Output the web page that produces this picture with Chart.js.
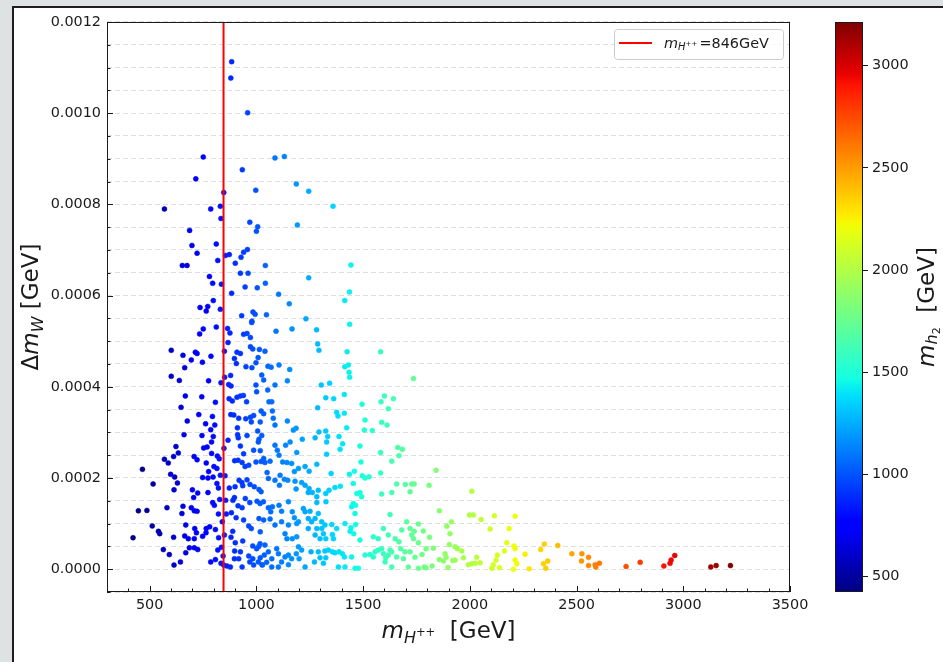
<!DOCTYPE html>
<html>
<head>
<meta charset="utf-8">
<title>Delta m_W scan</title>
<script src="https://cdn.jsdelivr.net/npm/chart.js@4.4.1/dist/chart.umd.min.js"></script>
<style>
    html, body { margin: 0; padding: 0; background: #dee2e2; overflow: hidden; }
    #frame {
        position: absolute; left: 12px; top: 6px; right: 0; bottom: 0;
        background: #fff; border-left: 2px solid #1e1e1e; border-top: 2px solid #1e1e1e;
    }
    canvas { position: absolute; left: 0; top: 0; }
</style>
</head>
<body>
<div id="frame"></div>
<canvas id="scatterChart" width="943" height="662"></canvas>
<canvas id="colorbarChart" width="943" height="662"></canvas>
<script>
/* globals Chart:false */
const X_RANGE = [300, 3500];
const Y_RANGE = [-0.00005, 0.0012];
const X_TICKS = [500, 1000, 1500, 2000, 2500, 3000, 3500];
const Y_TICKS = [0, 0.0002, 0.0004, 0.0006, 0.0008, 0.0010, 0.0012];
const CBAR_TICKS = [500, 1000, 1500, 2000, 2500, 3000];
const BENCHMARK_MASS = 846;

// each point: [m_H++ (GeV), Delta m_W (1e-4 GeV), m_h2 (GeV)]
const scanUpper = [
    [884, 11.13, 884], [880, 10.77, 880], [959, 10.01, 959], [751, 9.04, 751], [716, 8.56, 716], [934, 8.76, 934],
    [1087, 9.02, 1087], [1131, 9.05, 1131], [1187, 8.45, 1187], [1245, 8.29, 1245], [997, 8.31, 997], [847, 8.26, 847],
    [831, 7.96, 831], [786, 7.90, 786], [569, 7.90, 569], [834, 7.69, 834], [1359, 7.96, 1359],
    [969, 7.61, 969], [1006, 7.51, 1006], [1000, 7.41, 1000], [1192, 7.55, 1192], [687, 7.43, 687], [698, 7.10, 698],
    [812, 7.13, 812], [722, 6.93, 722], [855, 6.88, 855], [873, 6.90, 873], [940, 6.95, 940], [958, 7.01, 958],
    [928, 6.84, 928], [819, 6.77, 819], [901, 6.71, 901], [653, 6.66, 653], [675, 6.66, 675], [1042, 6.66, 1042],
    [780, 6.42, 780], [925, 6.49, 925], [961, 6.49, 961], [1245, 6.39, 1245], [795, 6.27, 795], [836, 6.25, 836],
    [947, 6.19, 947], [1004, 6.17, 1004], [1042, 6.27, 1042], [884, 6.05, 884], [1104, 6.03, 1104], [798, 5.89, 798],
    [1154, 5.82, 1154], [1414, 5.89, 1414], [736, 5.74, 736], [772, 5.76, 772], [765, 5.66, 765], [831, 5.70, 831],
    [931, 5.56, 931], [984, 5.64, 984], [994, 5.59, 994], [1047, 5.58, 1047], [979, 5.44, 979], [978, 5.41, 978],
    [1232, 5.49, 1232], [751, 5.27, 751], [812, 5.31, 812], [865, 5.28, 865], [876, 5.18, 876], [734, 5.16, 734],
    [940, 5.15, 940], [956, 5.17, 956], [972, 5.08, 972], [1092, 5.22, 1092], [1167, 5.27, 1167], [1282, 5.25, 1282],
    [867, 4.97, 867], [1287, 4.94, 1287], [1293, 4.80, 1293], [601, 4.80, 601], [656, 4.69, 656], [714, 4.76, 714],
    [722, 4.73, 722], [695, 4.59, 695], [747, 4.54, 747], [787, 4.67, 787], [850, 4.78, 850], [909, 4.76, 909],
    [925, 4.73, 925], [972, 4.88, 972], [983, 4.83, 983], [1014, 4.82, 1014], [1040, 4.78, 1040], [897, 4.62, 897],
    [906, 4.51, 906], [1008, 4.64, 1008], [998, 4.53, 998], [951, 4.44, 951], [979, 4.42, 979], [1054, 4.45, 1054],
    [1069, 4.43, 1069], [1106, 4.48, 1106], [1156, 4.38, 1156], [664, 4.42, 664], [1425, 4.77, 1425], [1414, 4.44, 1414],
    [1443, 6.67, 1443], [1436, 6.08, 1436], [1437, 5.37, 1437], [1582, 4.77, 1582], [1431, 4.48, 1431]
];

const scanLeft = [
    [601, 4.23, 601], [639, 4.14, 639], [776, 4.13, 776], [834, 4.09, 834], [851, 4.21, 851], [879, 4.25, 879],
    [870, 4.05, 870], [881, 4.02, 881], [667, 3.80, 667], [744, 3.78, 744], [808, 3.66, 808], [647, 3.55, 647],
    [872, 3.74, 872], [887, 3.69, 887], [909, 3.77, 909], [925, 3.80, 925], [939, 3.81, 939], [954, 3.67, 954],
    [730, 3.39, 730], [794, 3.35, 794], [676, 3.25, 676], [762, 3.19, 762], [805, 3.16, 805], [880, 3.39, 880],
    [894, 3.38, 894], [917, 3.31, 917], [950, 3.30, 950], [972, 3.33, 972], [987, 3.37, 987], [976, 3.23, 976],
    [1034, 3.41, 1034], [1018, 3.23, 1018], [661, 2.95, 661], [745, 2.93, 745], [798, 2.91, 798], [786, 3.06, 786],
    [867, 2.83, 867], [911, 3.10, 911], [912, 2.95, 912], [915, 2.88, 915], [956, 2.93, 956], [1012, 2.85, 1012],
    [1025, 2.93, 1025], [790, 2.79, 790], [769, 2.68, 769], [753, 2.66, 753], [623, 2.69, 623], [634, 2.55, 634],
    [612, 2.47, 612], [708, 2.47, 708], [722, 2.40, 722], [790, 2.54, 790], [848, 2.65, 848], [817, 2.48, 817],
    [826, 2.42, 826], [925, 2.70, 925], [940, 2.53, 940], [987, 2.61, 987], [1018, 2.60, 1018], [1034, 2.43, 1034],
    [898, 2.38, 898], [914, 2.39, 914], [933, 2.34, 933], [947, 2.25, 947], [964, 2.28, 964], [998, 2.35, 998],
    [1022, 2.36, 1022], [569, 2.41, 569], [587, 2.33, 587], [466, 2.19, 466], [598, 2.08, 598], [617, 2.02, 617],
    [630, 1.89, 630], [516, 1.87, 516], [614, 1.74, 614], [765, 2.33, 765], [776, 2.14, 776], [801, 2.25, 801],
    [815, 2.21, 815], [748, 2.01, 748], [773, 2.00, 773], [797, 2.02, 797], [815, 1.88, 815], [822, 1.78, 822],
    [831, 2.06, 831], [853, 2.05, 853], [873, 1.78, 873], [900, 1.81, 900], [919, 1.95, 919], [932, 1.90, 932],
    [936, 1.83, 936], [956, 1.96, 956], [970, 1.86, 970], [990, 1.81, 990], [1012, 1.75, 1012], [1022, 1.70, 1022],
    [700, 1.74, 700], [706, 1.57, 706], [725, 1.67, 725], [773, 1.68, 773], [795, 1.46, 795], [803, 1.40, 803],
    [828, 1.53, 828], [856, 1.51, 856], [890, 1.51, 890], [897, 1.57, 897], [914, 1.39, 914], [948, 1.55, 948],
    [969, 1.46, 969], [1003, 1.49, 1003], [447, 1.28, 447], [487, 1.29, 487], [581, 1.35, 581], [656, 1.38, 656],
    [651, 1.22, 651], [695, 1.35, 695], [709, 1.28, 709], [722, 1.27, 722], [822, 1.21, 822], [840, 1.04, 840],
    [859, 1.21, 859], [883, 1.24, 883], [905, 1.13, 905], [933, 1.35, 933], [512, 0.95, 512], [541, 0.83, 541],
    [547, 0.78, 547], [669, 0.97, 669], [711, 0.89, 711], [719, 0.80, 719], [765, 0.89, 765], [781, 0.93, 781],
    [808, 0.87, 808], [823, 0.69, 823], [850, 0.75, 850], [889, 0.83, 889], [940, 1.08, 940], [964, 0.95, 964],
    [976, 0.89, 976], [1018, 0.82, 1018], [1034, 1.08, 1034], [422, 0.69, 425], [612, 0.70, 612], [664, 0.73, 664],
    [681, 0.67, 681], [709, 0.67, 709], [748, 0.72, 748], [764, 0.80, 764], [936, 0.62, 936], [901, 0.58, 901],
    [881, 0.70, 881], [983, 0.51, 983], [1011, 0.50, 1011], [686, 0.47, 686], [709, 0.47, 709], [725, 0.43, 725],
    [669, 0.36, 669], [564, 0.43, 564], [592, 0.32, 592], [614, 0.09, 614], [644, 0.16, 644], [786, 0.16, 786],
    [808, 0.21, 808], [819, 0.42, 819], [836, 0.48, 836], [844, 0.29, 844], [834, 0.13, 834], [847, 0.09, 847],
    [862, 0.07, 862], [878, 0.05, 878], [898, 0.40, 898], [925, 0.38, 925], [897, 0.23, 897], [917, 0.23, 917],
    [933, 0.05, 933], [964, 0.29, 964], [983, 0.23, 983], [969, 0.16, 969], [987, 0.09, 987], [1018, 0.25, 1018],
    [1026, 0.10, 1026], [1037, 0.31, 1037]
];

const scanCentre = [
    [1434, 4.32, 1434], [1437, 4.21, 1437], [1025, 4.26, 1025], [1034, 4.15, 1034], [1053, 3.93, 1053], [1087, 4.04, 1087],
    [1145, 4.13, 1145], [1304, 4.04, 1304], [1343, 4.08, 1343], [1325, 3.76, 1325], [1362, 3.74, 1362], [1412, 3.83, 1412],
    [998, 4.04, 998], [1001, 3.89, 1001], [1059, 3.67, 1059], [1072, 3.67, 1072], [1287, 3.54, 1287], [1495, 3.62, 1495],
    [1584, 3.67, 1584], [1600, 3.80, 1600], [1642, 3.74, 1642], [1618, 3.52, 1618], [1022, 3.47, 1022], [1075, 3.47, 1075],
    [1079, 3.31, 1079], [1376, 3.44, 1376], [1412, 3.42, 1412], [1382, 3.36, 1382], [1509, 3.27, 1509], [1587, 3.22, 1587],
    [1612, 3.16, 1612], [1506, 3.05, 1506], [1543, 3.04, 1543], [1087, 3.16, 1087], [1145, 3.25, 1145], [1173, 3.05, 1173],
    [1186, 3.09, 1186], [1423, 3.10, 1423], [1006, 3.03, 1006], [1009, 2.79, 1009], [1275, 2.88, 1275], [1293, 3.01, 1293],
    [1325, 3.03, 1325], [1329, 2.79, 1329], [1334, 2.91, 1334], [1387, 2.91, 1387], [1404, 2.75, 1404], [1392, 2.63, 1392],
    [1215, 2.85, 1215], [1485, 2.70, 1485], [1490, 2.35, 1490], [1582, 2.56, 1582], [1634, 2.37, 1634], [1662, 2.67, 1662],
    [1684, 2.63, 1684], [1668, 2.49, 1668], [1087, 2.72, 1087], [1098, 2.61, 1098], [1106, 2.50, 1106], [1137, 2.72, 1137],
    [1158, 2.79, 1158], [1189, 2.56, 1189], [1329, 2.52, 1329], [1040, 2.34, 1040], [1064, 2.37, 1064], [1123, 2.35, 1123],
    [1143, 2.34, 1143], [1165, 2.32, 1165], [1178, 2.14, 1178], [1197, 2.21, 1197], [1228, 2.25, 1228], [1247, 2.15, 1247],
    [1283, 2.30, 1283], [1350, 2.10, 1350], [1436, 2.08, 1436], [1459, 2.15, 1459], [1454, 1.88, 1454], [1496, 2.05, 1496],
    [1509, 2.00, 1509], [1528, 2.03, 1528], [1582, 2.11, 1582], [1657, 1.87, 1657], [1698, 1.86, 1698], [1050, 2.12, 1050],
    [1056, 1.99, 1056], [1087, 1.95, 1087], [1111, 2.06, 1111], [1108, 1.84, 1108], [1131, 1.97, 1131], [1147, 1.95, 1147],
    [1181, 1.93, 1181], [1186, 1.76, 1186], [1212, 1.90, 1212], [1228, 1.84, 1228], [1247, 1.77, 1247], [1243, 1.68, 1243],
    [1262, 1.68, 1262], [1283, 1.59, 1283], [1290, 1.73, 1290], [1325, 1.66, 1325], [1340, 1.73, 1340], [1368, 1.79, 1368],
    [1393, 1.82, 1393], [1454, 1.44, 1454], [1446, 1.37, 1446], [1471, 1.66, 1471], [1493, 1.59, 1493], [1465, 1.40, 1465],
    [1462, 1.22, 1462], [1587, 1.65, 1587], [1634, 1.68, 1634], [1626, 1.20, 1626], [1485, 1.68, 1485], [1017, 1.44, 1017],
    [1033, 1.48, 1033], [1056, 1.35, 1056], [1067, 1.26, 1067], [1075, 1.37, 1075], [1106, 1.40, 1106], [1118, 1.27, 1118],
    [1150, 1.48, 1150], [1168, 1.26, 1168], [1197, 1.04, 1197], [1178, 1.13, 1178], [1220, 1.33, 1220], [1228, 1.26, 1228],
    [1251, 1.27, 1251], [1243, 1.11, 1243], [1259, 1.04, 1259], [1275, 1.11, 1275], [1290, 1.22, 1290], [1306, 1.04, 1306],
    [1321, 0.97, 1321], [1353, 0.98, 1353], [1326, 1.48, 1326], [1283, 1.46, 1283], [1243, 0.89, 1243], [1283, 0.89, 1283],
    [1306, 0.89, 1306], [1325, 0.67, 1325], [1356, 0.76, 1356], [1361, 0.67, 1361], [1376, 0.89, 1376], [1012, 1.11, 1012],
    [1064, 1.10, 1064], [1087, 0.97, 1087], [1118, 1.04, 1118], [1150, 0.97, 1150], [1189, 1.00, 1189], [1134, 0.78, 1134],
    [1143, 0.67, 1143], [1168, 0.67, 1168], [1189, 0.71, 1189], [1197, 0.49, 1197], [1187, 0.34, 1187], [1212, 0.42, 1212],
    [1200, 0.23, 1200], [1017, 0.56, 1017], [1040, 0.53, 1040], [1056, 0.38, 1056], [1072, 0.23, 1072], [1095, 0.45, 1095],
    [1103, 0.34, 1103], [1118, 0.16, 1118], [1134, 0.27, 1134], [1150, 0.10, 1150], [1165, 0.23, 1165], [1150, 0.31, 1150],
    [1001, 0.45, 1001], [1009, 0.16, 1009], [1028, 0.09, 1028], [1048, 0.15, 1048], [1072, 0.05, 1072], [1103, 0.05, 1103],
    [1228, 0.05, 1228], [1256, 0.38, 1256], [1272, 0.16, 1272], [1290, 0.38, 1290], [1298, 0.25, 1298], [1314, 0.13, 1314],
    [1325, 0.25, 1325], [1321, 0.40, 1321], [1337, 0.42, 1337], [1356, 0.38, 1356], [1368, 0.36, 1368], [1387, 0.38, 1387],
    [1403, 0.34, 1403], [1412, 0.27, 1412], [1384, 0.05, 1384], [1415, 0.05, 1415], [1446, 0.27, 1446], [1275, 0.75, 1275],
    [1298, 0.67, 1298], [1314, 0.78, 1314], [1415, 1.00, 1415], [1443, 0.91, 1443], [1439, 0.83, 1439], [1456, 0.78, 1456],
    [1465, 0.98, 1465], [1485, 0.64, 1485], [1462, 0.02, 1462], [1478, 0.02, 1478], [1509, 0.31, 1509], [1532, 0.32, 1532],
    [1548, 0.27, 1548], [1556, 0.38, 1556], [1571, 0.42, 1571], [1587, 0.45, 1587], [1595, 0.34, 1595], [1606, 0.25, 1606],
    [1618, 0.31, 1618], [1626, 0.42, 1626], [1634, 0.38, 1634], [1603, 0.16, 1603], [1634, 0.05, 1634], [1657, 0.27, 1657],
    [1676, 0.45, 1676], [1689, 0.23, 1689], [1696, 0.38, 1696], [1712, 0.05, 1712], [1548, 0.71, 1548], [1571, 0.67, 1571],
    [1595, 0.89, 1595], [1618, 0.75, 1618], [1650, 0.67, 1650], [1668, 0.60, 1668], [1681, 0.86, 1681], [1704, 1.04, 1704],
    [1720, 0.89, 1720], [1728, 0.75, 1728]
];

const scanRight = [
    [1736, 4.18, 1736], [1842, 2.17, 1842], [1728, 1.87, 1728], [1739, 1.87, 1739], [1809, 1.84, 1809], [1720, 1.70, 1720],
    [2009, 1.71, 2009], [1857, 1.28, 1857], [1998, 1.19, 1998], [2017, 1.19, 2017], [2053, 1.09, 2053], [2115, 1.17, 2115],
    [2212, 1.16, 2212], [1759, 0.99, 1759], [1739, 0.83, 1739], [1782, 0.84, 1782], [1811, 0.70, 1811], [1759, 0.58, 1759],
    [1736, 0.67, 1736], [1892, 0.94, 1892], [1914, 1.04, 1914], [1907, 0.78, 1907], [1904, 0.54, 1904], [2095, 0.88, 2095],
    [2184, 0.89, 2184], [2173, 0.58, 2173], [2207, 0.51, 2207], [2162, 0.40, 2162], [2212, 0.45, 2212], [1795, 0.45, 1795],
    [1829, 0.46, 1829], [1776, 0.32, 1776], [1743, 0.26, 1743], [1720, 0.38, 1720], [1884, 0.34, 1884], [1889, 0.26, 1889],
    [1931, 0.49, 1931], [1942, 0.45, 1942], [1962, 0.40, 1962], [1970, 0.25, 1970], [1920, 0.19, 1920], [1931, 0.20, 1931],
    [1876, 0.18, 1876], [1857, 0.21, 1857], [1898, 0.04, 1898], [1993, 0.10, 1993], [2009, 0.12, 2009], [2025, 0.13, 2025],
    [2048, 0.14, 2048], [2032, 0.26, 2032], [2103, 0.02, 2103], [2110, 0.10, 2110], [2123, 0.20, 2123], [2129, 0.31, 2129],
    [2139, 0.03, 2139], [2204, 0.00, 2204], [2212, 0.20, 2212], [2220, 0.12, 2220], [2259, 0.33, 2259], [2278, 0.01, 2278],
    [2332, 0.43, 2332], [2349, 0.55, 2349], [2365, 0.18, 2365], [2345, 0.12, 2345], [2356, 0.02, 2356], [2412, 0.52, 2412],
    [1759, 0.02, 1759], [1786, 0.05, 1786], [1795, 0.03, 1795], [1823, 0.07, 1823]
];

const scanTail = [
    [2478, 0.34, 2478], [2525, 0.34, 2525], [2523, 0.18, 2523], [2556, 0.26, 2556], [2556, 0.08, 2556], [2587, 0.10, 2587],
    [2590, 0.05, 2590], [2607, 0.13, 2607], [2732, 0.06, 2732], [2798, 0.15, 2798], [2909, 0.07, 2909], [2938, 0.13, 2938],
    [2943, 0.20, 2943], [2960, 0.30, 2960], [3129, 0.05, 3129], [3154, 0.08, 3154], [3221, 0.08, 3214]
];

(function () {
    const FONT = "'DejaVu Sans', sans-serif";
    const INK = "#1a1a1a";
    const X_MINOR = 100;
    const Y_MINOR = 0.00005;

    Chart.defaults.font.family = FONT;
    Chart.defaults.color = INK;

    var points = [].concat(scanUpper, scanLeft, scanCentre, scanRight, scanTail);

    var zValues = points.map(p => p[2]),
        zMin = Math.min.apply(null, zValues),
        zMax = Math.max.apply(null, zValues);

    // matplotlib "jet" segment data
    var JET = {
        r: [[0, 0], [0.35, 0], [0.66, 1], [0.89, 1], [1, 0.5]],
        g: [[0, 0], [0.125, 0], [0.375, 1], [0.64, 1], [0.91, 0], [1, 0]],
        b: [[0, 0.5], [0.11, 1], [0.34, 1], [0.65, 0], [1, 0]]
    };

    function channel(segments, t) {
        for (var i = 1; i < segments.length; i++) {
            if (t <= segments[i][0]) {
                var a = segments[i - 1], b = segments[i];
                return a[1] + (b[1] - a[1]) * (t - a[0]) / (b[0] - a[0]);
            }
        }
        return segments[segments.length - 1][1];
    }

    function jet(t) {
        t = Math.max(0, Math.min(1, t));
        return `rgb(${Math.round(255 * channel(JET.r, t))},${Math.round(255 * channel(JET.g, t))},${Math.round(255 * channel(JET.b, t))})`;
    }

    function colourFor(z) {
        return jet((z - zMin) / (zMax - zMin));
    }

    // runs: [text, size px, italic, baseline shift px]
    function drawMath(ctx, runs, x, y, rotate, align) {
        ctx.save();
        ctx.translate(x, y);
        if (rotate) {
            ctx.rotate(-Math.PI / 2);
        }
        ctx.fillStyle = INK;
        ctx.textBaseline = "alphabetic";
        ctx.textAlign = "left";

        var fonts = runs.map(r => `${r[2] ? "italic " : ""}${r[1]}px ${FONT}`);
        var widths = runs.map((r, i) => {
            ctx.font = fonts[i];
            return ctx.measureText(r[0]).width;
        });
        var total = widths.reduce((a, b) => a + b, 0);
        var cursor = align === "left" ? 0 : -total / 2;

        runs.forEach((r, i) => {
            ctx.font = fonts[i];
            ctx.fillText(r[0], cursor, r[3]);
            cursor += widths[i];
        });
        ctx.restore();
    }

    function isMajorY(v) {
        return Y_TICKS.some(t => Math.abs(t - v) < 1e-10);
    }

    var yGrid = [];
    for (var k = Math.round(Y_RANGE[0] / Y_MINOR); k <= Math.round(Y_RANGE[1] / Y_MINOR); k++) {
        yGrid.push(k * Y_MINOR);
    }

    var axesDecor = {
        id: "axesDecor",
        afterDraw: function (chart) {
            var ctx = chart.ctx,
                area = chart.chartArea,
                xs = chart.scales.x,
                ys = chart.scales.y;

            ctx.save();
            ctx.strokeStyle = INK;
            ctx.lineWidth = 1;
            ctx.beginPath();

            for (var v = X_RANGE[0] + X_MINOR; v <= X_RANGE[1]; v += X_MINOR) {
                var px = Math.round(xs.getPixelForValue(v)) + 0.5;
                var len = X_TICKS.indexOf(v) >= 0 ? 6 : 3.5;
                ctx.moveTo(px, area.bottom);
                ctx.lineTo(px, area.bottom - len);
            }

            yGrid.forEach(val => {
                var py = Math.round(ys.getPixelForValue(val)) + 0.5;
                var len = isMajorY(val) ? 6 : 3.5;
                ctx.moveTo(area.left, py);
                ctx.lineTo(area.left + len, py);
            });
            ctx.stroke();

            ctx.strokeRect(Math.round(area.left) + 0.5, Math.round(area.top) + 0.5,
                Math.round(area.right - area.left) - 1, Math.round(area.bottom - area.top) - 1);

            // legend
            var line = chart.data.datasets[0];
            ctx.fillStyle = "rgba(255,255,255,0.8)";
            ctx.strokeStyle = "#cccccc";
            ctx.beginPath();
            ctx.roundRect(614.5, 29.5, 169, 30, 3);
            ctx.fill();
            ctx.stroke();

            ctx.strokeStyle = line.borderColor;
            ctx.lineWidth = 2;
            ctx.beginPath();
            ctx.moveTo(619, 43);
            ctx.lineTo(652, 43);
            ctx.stroke();
            ctx.restore();

            drawMath(ctx, [
                ["m", 14.4, true, 0],
                ["H", 10, true, 2],
                ["++ ", 7, false, -2.5],
                ["=" + BENCHMARK_MASS + "GeV", 14.4, false, 0]
            ], 664, 48, false, "left");

            drawMath(ctx, [
                ["m", 23, true, 0],
                ["H", 16, true, 4.5],
                ["++", 11.5, false, -2.5],
                ["  [GeV]", 23, false, 0]
            ], (area.left + area.right) / 2, 638, false);

            drawMath(ctx, [
                ["\u0394", 23, false, 0],
                ["m", 23, true, 0],
                ["W", 16, true, 4.5],
                [" [GeV]", 23, false, 0]
            ], 38, (area.top + area.bottom) / 2, true);
        }
    };

    var scatterCfg = {
        type: "scatter",
        data: {
            datasets: [{
                label: "benchmark",
                data: [{ x: BENCHMARK_MASS, y: Y_RANGE[0] }, { x: BENCHMARK_MASS, y: Y_RANGE[1] }],
                showLine: true,
                borderColor: "#ff0000",
                borderWidth: 2,
                pointRadius: 0,
                order: 0
            }, {
                label: "scan",
                data: points.map(p => ({ x: p[0], y: p[1] * 1e-4 })),
                backgroundColor: points.map(p => colourFor(p[2])),
                borderColor: points.map(p => colourFor(p[2])),
                borderWidth: 0.5,
                pointRadius: 2.5,
                order: 1
            }]
        },
        options: {
            responsive: false,
            animation: false,
            events: [],
            layout: { padding: { left: 0, top: 22, right: 153, bottom: 0 } },
            plugins: { legend: { display: false }, tooltip: { enabled: false } },
            scales: {
                x: {
                    type: "linear",
                    min: X_RANGE[0],
                    max: X_RANGE[1],
                    afterFit: s => { s.height = 70; },
                    afterBuildTicks: s => { s.ticks = X_TICKS.map(v => ({ value: v })); },
                    grid: { display: false, drawTicks: false, tickLength: 0 },
                    border: { display: false },
                    ticks: {
                        font: { size: 14.4 },
                        color: INK,
                        padding: 5,
                        maxRotation: 0,
                        autoSkip: false,
                        callback: v => String(v)
                    }
                },
                y: {
                    min: Y_RANGE[0],
                    max: Y_RANGE[1],
                    afterFit: s => { s.width = 107; },
                    afterBuildTicks: s => { s.ticks = yGrid.map(v => ({ value: v })); },
                    grid: { color: "rgba(190,190,190,0.5)", lineWidth: 1, drawTicks: false, tickLength: 0 },
                    border: { display: false, dash: [5, 3] },
                    ticks: {
                        font: { size: 14.4 },
                        color: INK,
                        padding: 6,
                        autoSkip: false,
                        callback: v => isMajorY(v) ? v.toFixed(4) : ""
                    }
                }
            }
        },
        plugins: [axesDecor]
    };

    new Chart(document.getElementById("scatterChart"), scatterCfg);

    var colorbarDecor = {
        id: "colorbarDecor",
        beforeDatasetsDraw: function (chart) {
            var ctx = chart.ctx,
                area = chart.chartArea,
                ys = chart.scales.y;

            var grad = ctx.createLinearGradient(0, ys.getPixelForValue(zMin), 0, ys.getPixelForValue(zMax));
            for (var i = 0; i <= 64; i++) {
                grad.addColorStop(i / 64, jet(i / 64));
            }
            ctx.save();
            ctx.fillStyle = grad;
            ctx.fillRect(area.left, area.top, area.right - area.left, area.bottom - area.top);
            ctx.strokeStyle = INK;
            ctx.lineWidth = 1;
            ctx.strokeRect(Math.round(area.left) + 0.5, Math.round(area.top) + 0.5,
                Math.round(area.right - area.left) - 1, Math.round(area.bottom - area.top) - 1);
            ctx.restore();

            drawMath(ctx, [
                ["m", 23, true, 0],
                ["h", 16, true, 3],
                ["2", 11, false, 5.5],
                ["  [GeV]", 23, false, 0]
            ], 934, (area.top + area.bottom) / 2, true);
        }
    };

    new Chart(document.getElementById("colorbarChart"), {
        type: "scatter",
        data: { datasets: [] },
        options: {
            responsive: false,
            animation: false,
            events: [],
            layout: { padding: { left: 835, top: 22, right: 0, bottom: 70 } },
            plugins: { legend: { display: false }, tooltip: { enabled: false } },
            scales: {
                x: { display: false, min: 0, max: 1 },
                y: {
                    position: "right",
                    min: zMin,
                    max: zMax,
                    afterFit: s => { s.width = 80; },
                    afterBuildTicks: s => { s.ticks = CBAR_TICKS.map(v => ({ value: v })); },
                    grid: { drawOnChartArea: false, drawTicks: true, tickLength: 5, tickColor: INK, tickWidth: 1 },
                    border: { display: false },
                    ticks: { font: { size: 14.4 }, color: INK, padding: 4, autoSkip: false, callback: v => String(v) }
                }
            }
        },
        plugins: [colorbarDecor]
    });
})();
</script>
</body>
</html>
